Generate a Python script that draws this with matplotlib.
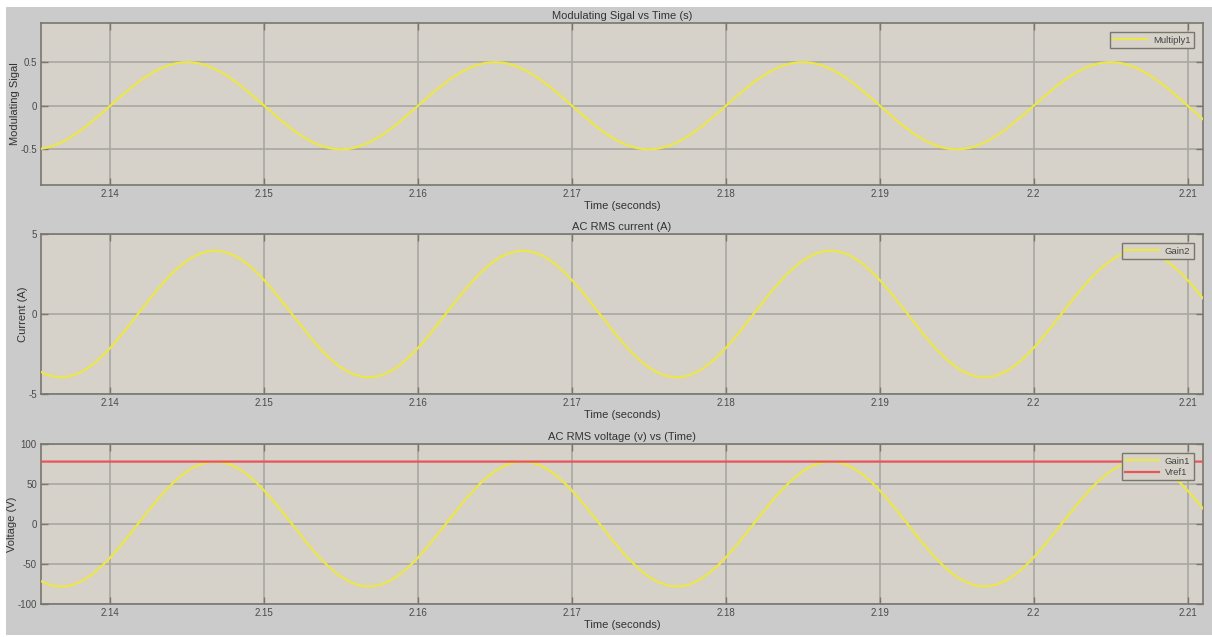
import numpy as np
import matplotlib
matplotlib.use('Agg')
import matplotlib.pyplot as plt
from matplotlib.patches import Rectangle
from matplotlib.ticker import FormatStrFormatter

plt.rcParams['font.family'] = ['Liberation Sans', 'DejaVu Sans']

#### scope settings
t_start, t_end = 2.1355, 2.211
x_ticks = [2.14, 2.15, 2.16, 2.17, 2.18, 2.19, 2.20, 2.21]
freq_hz = 50.0

# modulating signal (Multiply1)
mod_amp = 0.5
mod_zero_up = 2.1400      # rising zero crossing
# AC current (Gain2)
cur_amp = 3.95
cur_zero_up = 2.1418
# AC voltage (Gain1) and reference (Vref1)
volt_amp = 78.0
volt_zero_up = 2.1418
vref = 78.0

titles = ['Modulating Sigal vs Time (s)', 'AC RMS current (A)', 'AC RMS voltage (v) vs (Time)']
ylabels = ['Modulating Sigal', 'Current (A)', 'Voltage (V)']
ylims = [(-0.91, 0.95), (-5, 5), (-100, 100)]
yticks = [[-0.5, 0, 0.5], [-5, 0, 5], [-100, -50, 0, 50, 100]]

W, H = 1212, 637
BG_FIG = '#cbcbcb'
BG_AX = '#d6d2c9'
GRID = '#a8a7a2'
EDGE = '#77766f'
YELLOW = '#ece64a'
RED = '#e8545a'


def scope_wave(t, amp, t0):
    return amp * np.sin(2 * np.pi * freq_hz * (t - t0))


fig = plt.figure(figsize=(W / 100, H / 100), dpi=100, facecolor='white')
fig.patches.append(Rectangle((6 / W, 2 / H), 1, (H - 9) / H, transform=fig.transFigure,
                             facecolor=BG_FIG, edgecolor='none', zorder=-10))

# axes boxes in pixels: (left, top, right, bottom)
boxes = [(41, 23, 1203, 185), (41, 234, 1203, 394), (41, 444, 1203, 604)]
axes = []
for (l, tp, r, b) in boxes:
    ax = fig.add_axes([l / W, 1 - b / H, (r - l) / W, (b - tp) / H])
    axes.append(ax)

t = np.linspace(t_start, t_end, 3000)
series = [
    [(scope_wave(t, mod_amp, mod_zero_up), YELLOW, 'Multiply1')],
    [(scope_wave(t, cur_amp, cur_zero_up), YELLOW, 'Gain2')],
    [(scope_wave(t, volt_amp, volt_zero_up), YELLOW, 'Gain1'),
     (np.full_like(t, vref), RED, 'Vref1')],
]

for i, ax in enumerate(axes):
    ax.set_facecolor(BG_AX)
    for y, c, lab in series[i]:
        ax.plot(t, y, color=c, lw=1.6, label=lab, zorder=3)
    ax.set_xlim(t_start, t_end)
    ax.set_ylim(*ylims[i])
    ax.set_xticks(x_ticks)
    ax.set_yticks(yticks[i])
    ax.xaxis.set_major_formatter(FormatStrFormatter('%g'))
    ax.yaxis.set_major_formatter(FormatStrFormatter('%g'))
    ax.grid(True, color=GRID, lw=1.2, zorder=1)
    ax.set_axisbelow(True)
    ax.tick_params(direction='in', top=True, right=True, length=5, width=1,
                   color=EDGE, labelsize=7, labelcolor='#4a4a4a', pad=3)
    for s in ax.spines.values():
        s.set_color(EDGE)
        s.set_linewidth(1.2)
    ax.set_title(titles[i], fontsize=8, color='#333333', pad=3)
    ax.set_xlabel('Time (seconds)', fontsize=8, color='#333333', labelpad=1)
    ax.set_ylabel(ylabels[i], fontsize=8, color='#333333', labelpad=0)
    leg = ax.legend(loc='upper right', fontsize=6.8, frameon=True, fancybox=False,
                    facecolor=BG_AX, edgecolor=EDGE, framealpha=1,
                    handlelength=3.6, handletextpad=0.6, borderaxespad=1.0,
                    borderpad=0.35, labelspacing=0.25)
    for txt in leg.get_texts():
        txt.set_color('#444444')
    leg.get_frame().set_linewidth(1.0)

fig.savefig('out.png', dpi=100, facecolor='white')
